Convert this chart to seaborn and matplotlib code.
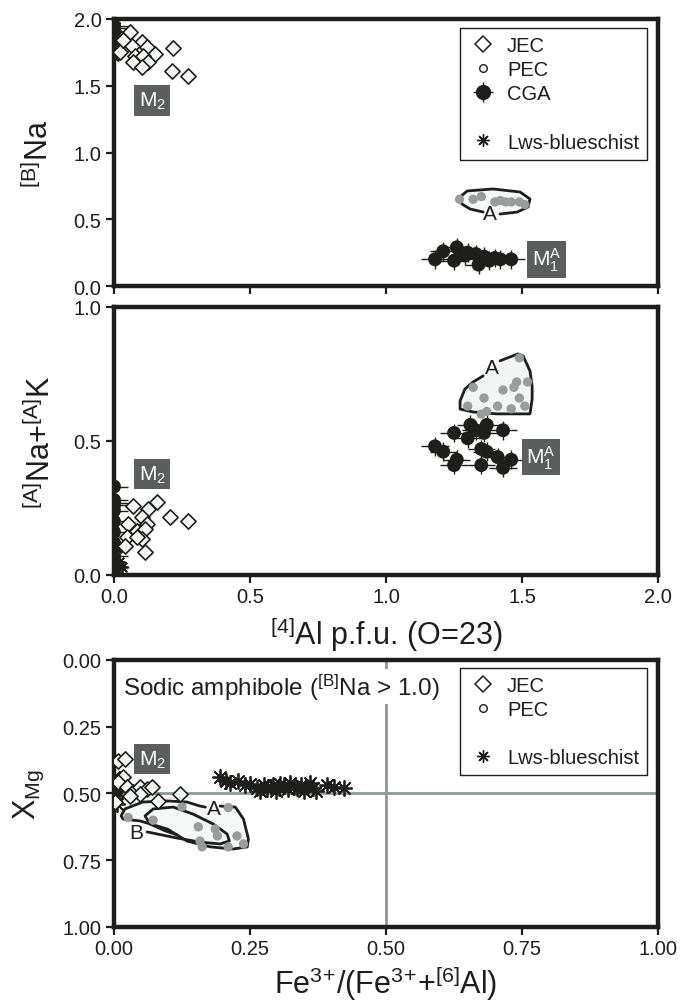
import numpy as np
import matplotlib
matplotlib.use('Agg')
import matplotlib.pyplot as plt
from matplotlib.lines import Line2D
import seaborn as sns

# ---------- data ----------
# top panel: [B]Na vs [4]Al
jec_al = [0.059, 0.103, 0.066, 0.121, 0.151, 0.077, 0.107, 0.125, 0.070, 0.103, 0.217, 0.213, 0.272, 0.022, 0.033]
jec_bna = [1.90, 1.83, 1.80, 1.79, 1.74, 1.72, 1.72, 1.68, 1.68, 1.64, 1.78, 1.61, 1.57, 1.75, 1.84]
pec_al = [1.27, 1.32, 1.35, 1.40, 1.42, 1.44, 1.46, 1.49, 1.51]
pec_bna = [0.65, 0.65, 0.67, 0.63, 0.64, 0.63, 0.63, 0.63, 0.61]
cga_al = [1.18, 1.21, 1.25, 1.26, 1.29, 1.30, 1.33, 1.34, 1.35, 1.36, 1.38, 1.40, 1.42, 1.46,
          0.0, 0.0, 0.0, 0.0, 0.0, 0.0, 0.0, 0.0]
cga_bna = [0.20, 0.26, 0.19, 0.29, 0.23, 0.25, 0.24, 0.16, 0.20, 0.22, 0.19, 0.21, 0.20, 0.20,
           1.95, 1.93, 1.90, 1.88, 1.85, 1.82, 1.79, 1.76]
lws_al = [0.0, 0.0, 0.0, 0.01, 0.0, 0.02, 0.0, 0.01, 0.0, 0.02, 0.01, 0.0]
lws_bna = [1.97, 1.93, 1.90, 1.88, 1.86, 1.84, 1.82, 1.80, 1.78, 1.76, 1.74, 1.72]

# middle panel: [A]Na+[A]K vs [4]Al
jec_al2 = [0.070, 0.158, 0.125, 0.103, 0.051, 0.121, 0.085, 0.206, 0.272, 0.048, 0.114, 0.103, 0.114, 0.040, 0.085]
jec_ak = [0.257, 0.272, 0.246, 0.216, 0.190, 0.190, 0.164, 0.216, 0.201, 0.142, 0.172, 0.134, 0.086, 0.108, 0.142]
pec_al2 = [1.49, 1.32, 1.36, 1.43, 1.48, 1.52, 1.47, 1.49, 1.41, 1.46, 1.51, 1.30, 1.35, 1.37]
pec_ak = [0.81, 0.70, 0.66, 0.69, 0.72, 0.72, 0.70, 0.66, 0.63, 0.62, 0.63, 0.63, 0.60, 0.61]
cga_al2 = [1.18, 1.21, 1.25, 1.31, 1.37, 1.43, 1.30, 1.35, 1.37, 1.41, 1.46, 1.26, 1.25, 1.35, 1.43, 1.36, 1.33,
           0.0, 0.0, 0.0, 0.0, 0.0, 0.0, 0.0, 0.0, 0.0, 0.0]
cga_ak = [0.48, 0.46, 0.53, 0.56, 0.56, 0.54, 0.51, 0.47, 0.46, 0.44, 0.43, 0.43, 0.41, 0.41, 0.40, 0.53, 0.54,
          0.33, 0.28, 0.27, 0.26, 0.24, 0.20, 0.16, 0.12, 0.10, 0.07]
lws_al2 = [0.0, 0.01, 0.0, 0.03, 0.0, 0.02, 0.0, 0.01]
lws_ak = [0.02, 0.04, 0.06, 0.03, 0.08, 0.05, 0.01, 0.10]

# bottom panel: XMg vs Fe3+/(Fe3+ + [6]Al)
jec_fe = [0.007, 0.020, 0.017, 0.008, 0.024, 0.035, 0.048, 0.061, 0.070, 0.048, 0.081, 0.122, 0.002, 0.030]
jec_xmg = [0.378, 0.370, 0.440, 0.457, 0.476, 0.494, 0.476, 0.483, 0.476, 0.502, 0.528, 0.502, 0.532, 0.510]
pec_fe = [0.026, 0.072, 0.125, 0.155, 0.158, 0.162, 0.186, 0.190, 0.210, 0.210, 0.226, 0.238]
pec_xmg = [0.59, 0.60, 0.55, 0.625, 0.678, 0.70, 0.633, 0.659, 0.70, 0.553, 0.659, 0.689]
lws_fe = [0.195, 0.205, 0.214, 0.228, 0.240, 0.250, 0.262, 0.269, 0.276, 0.282, 0.288, 0.293, 0.298, 0.303,
          0.306, 0.312, 0.319, 0.324, 0.330, 0.336, 0.343, 0.349, 0.355, 0.360, 0.366, 0.372, 0.392, 0.405, 0.422,
          0.0, 0.0, 0.0, 0.0, 0.0, 0.005, 0.005, 0.0, 0.0, 0.0]
lws_xmg = [0.44, 0.455, 0.46, 0.455, 0.47, 0.465, 0.48, 0.49, 0.47, 0.485, 0.475, 0.47, 0.49, 0.48,
           0.465, 0.47, 0.485, 0.46, 0.475, 0.48, 0.47, 0.49, 0.475, 0.46, 0.48, 0.49, 0.47, 0.475, 0.48,
           0.44, 0.46, 0.48, 0.50, 0.52, 0.54, 0.49, 0.51, 0.47, 0.53]

# field outlines (hand traced)
regA1_x = [1.357, 1.309, 1.279, 1.272, 1.298, 1.393, 1.493, 1.529, 1.522, 1.482, 1.419]
regA1_y = [0.554, 0.577, 0.614, 0.667, 0.712, 0.727, 0.704, 0.652, 0.592, 0.554, 0.539]
regA2_x = [1.419, 1.485, 1.504, 1.529, 1.537, 1.537, 1.529, 1.408, 1.320, 1.272, 1.272, 1.290, 1.320, 1.357]
regA2_y = [0.799, 0.825, 0.817, 0.761, 0.705, 0.657, 0.601, 0.601, 0.608, 0.619, 0.649, 0.694, 0.720, 0.743]
regA3_x = [0.195, 0.223, 0.238, 0.247, 0.245, 0.219, 0.177, 0.134, 0.098, 0.048, 0.017, 0.013, 0.020, 0.053,
           0.098, 0.134, 0.158, 0.168]
regA3_y = [0.547, 0.551, 0.596, 0.670, 0.700, 0.708, 0.700, 0.678, 0.633, 0.603, 0.596, 0.584, 0.558, 0.532,
           0.528, 0.532, 0.547, 0.551]
regB3_x = [0.061, 0.116, 0.158, 0.195, 0.212, 0.208, 0.182, 0.145, 0.109, 0.072, 0.057, 0.066, 0.094, 0.116]
regB3_y = [0.644, 0.667, 0.682, 0.689, 0.678, 0.652, 0.614, 0.577, 0.551, 0.558, 0.584, 0.614, 0.640, 0.655]

INK = '#1e1e1c'
GREY = '#999c9b'
BOXC = '#5b5e5c'
AST = (8, 2, 0)
TICKFS = 14.5
LABFS = 22
LEGFS = 14.5

sns.set_theme(style='ticks')
plt.rcParams['font.family'] = ['Liberation Sans', 'DejaVu Sans']
plt.rcParams['mathtext.default'] = 'regular'

fig = plt.figure(figsize=(6.81, 10.04), dpi=100)
ax1 = fig.add_axes([0.1674, 0.7141, 0.799, 0.266])
ax2 = fig.add_axes([0.1674, 0.4263, 0.799, 0.267])
ax3 = fig.add_axes([0.1674, 0.0757, 0.799, 0.266])


def _style(ax):
    for s in ax.spines.values():
        s.set_linewidth(3.2)
        s.set_color(INK)
    ax.tick_params(length=6, width=1.6, color=INK, labelsize=TICKFS, pad=3, labelcolor=INK)


def _jec(ax, x, y):
    sns.scatterplot(x=x, y=y, ax=ax, marker='D', s=60, color='#f6f8f7',
                    edgecolor=INK, linewidth=1.2, zorder=4, legend=False)


def _pec(ax, x, y):
    sns.scatterplot(x=x, y=y, ax=ax, marker='o', s=45, color=GREY,
                    edgecolor='none', zorder=3, legend=False)


def _cga(ax, x, y, xe, ye):
    ax.errorbar(x, y, xerr=xe, yerr=ye, fmt='none', ecolor=INK, elinewidth=1, zorder=2)
    sns.scatterplot(x=x, y=y, ax=ax, marker='o', s=100, color=INK,
                    edgecolor='none', zorder=3, legend=False)


def _lws(ax, x, y, s=70):
    sns.scatterplot(x=x, y=y, ax=ax, marker=AST, s=s, color=INK,
                    linewidth=1.3, zorder=3, legend=False)


def _tag(ax, x, y, txt):
    ax.text(x, y, txt, color='white', fontsize=15, ha='center', va='center', zorder=6,
            bbox=dict(boxstyle='square,pad=0.22', fc=BOXC, ec='none'))


def _outline(ax, x, y, fill=None):
    if fill:
        ax.fill(x, y, color=fill, zorder=1, lw=0)
    ax.plot(x, y, color=INK, lw=2, solid_capstyle='round', solid_joinstyle='round', zorder=2)


def _legend(ax, handles, labels, top):
    leg = ax.legend(handles, labels, loc='upper right', bbox_to_anchor=(0.98, top), fontsize=LEGFS,
                    frameon=True, fancybox=False, framealpha=1, edgecolor=INK, borderpad=0.4,
                    labelspacing=0.25, handlelength=1.5, handletextpad=0.45, borderaxespad=0)
    leg.get_frame().set_linewidth(1)
    for t in leg.get_texts():
        t.set_color(INK)


# legend handles
h_jec = Line2D([], [], marker='D', ls='none', ms=8, mfc='white', mec=INK, mew=1.1)
h_pec = Line2D([], [], marker='o', ls='none', ms=5.5, mfc='white', mec=INK, mew=1.0)
h_cga = ax1.errorbar([np.nan], [np.nan], xerr=[1], yerr=[1], fmt='o', ms=10, color=INK, elinewidth=1)
h_blank = Line2D([], [], ls='none')
h_lws = Line2D([], [], marker=AST, ls='none', ms=9, color=INK, mew=1.0)

# ---- panel 1 ----
_outline(ax1, regA1_x, regA1_y, fill='#f6f8f7')
_pec(ax1, pec_al, pec_bna)
_cga(ax1, cga_al, cga_bna, 0.05, 0.07)
_lws(ax1, lws_al, lws_bna)
_jec(ax1, jec_al, jec_bna)
ax1.text(1.38, 0.545, 'A', fontsize=15, ha='center', va='center', color=INK)
_tag(ax1, 0.14, 1.39, r'M$_2$')
_tag(ax1, 1.59, 0.20, r'M$_1^A$')
ax1.set_xlim(0, 2)
ax1.set_ylim(0, 2)
ax1.set_xticks([0, 0.5, 1.0, 1.5, 2.0])
ax1.set_xticklabels([])
ax1.set_yticks([0, 0.5, 1.0, 1.5, 2.0])
ax1.set_yticklabels(['0.0', '0.5', '1.0', '1.5', '2.0'])
ax1.set_ylabel(r'$^{[B]}$Na', fontsize=LABFS, color=INK)
ax1.yaxis.set_label_coords(-0.108, 0.5)
_legend(ax1, [h_jec, h_pec, h_cga, h_blank, h_lws], ['JEC', 'PEC', 'CGA', ' ', 'Lws-blueschist'], 0.965)

# ---- panel 2 ----
_outline(ax2, regA2_x, regA2_y, fill='#f3f5f4')
_pec(ax2, pec_al2, pec_ak)
_cga(ax2, cga_al2, cga_ak, 0.05, 0.035)
_lws(ax2, lws_al2, lws_ak)
_jec(ax2, jec_al2, jec_ak)
ax2.text(1.39, 0.775, 'A', fontsize=15, ha='center', va='center', color=INK)
_tag(ax2, 0.14, 0.377, r'M$_2$')
_tag(ax2, 1.57, 0.44, r'M$_1^A$')
ax2.set_xlim(0, 2)
ax2.set_ylim(0, 1)
ax2.set_xticks([0, 0.5, 1.0, 1.5, 2.0])
ax2.set_xticklabels(['0.0', '0.5', '1.0', '1.5', '2.0'])
ax2.set_yticks([0, 0.5, 1.0])
ax2.set_yticklabels(['0.0', '0.5', '1.0'])
ax2.set_ylabel(r'$^{[A]}$Na+$^{[A]}$K', fontsize=LABFS, color=INK)
ax2.yaxis.set_label_coords(-0.105, 0.5)
ax2.set_xlabel(r'$^{[4]}$Al p.f.u. (O=23)', fontsize=LABFS, color=INK)
ax2.xaxis.set_label_coords(0.5, -0.145)

# ---- panel 3 ----
ax3.axhline(0.5, color='#8e9897', lw=2, zorder=1)
ax3.axvline(0.5, color='#8e9897', lw=2, zorder=1)
_outline(ax3, regA3_x, regA3_y, fill='#f6f8f7')
_outline(ax3, regB3_x, regB3_y)
_pec(ax3, pec_fe, pec_xmg)
_lws(ax3, lws_fe, lws_xmg, s=120)
_jec(ax3, jec_fe, jec_xmg)
ax3.text(0.183, 0.556, 'A', fontsize=15, ha='center', va='center', color=INK)
ax3.text(0.04, 0.645, 'B', fontsize=15, ha='center', va='center', color=INK)
_tag(ax3, 0.07, 0.371, r'M$_2$')
ax3.text(0.017, 0.9, r'Sodic amphibole ($^{[B]}$Na > 1.0)', transform=ax3.transAxes,
         fontsize=17.5, ha='left', va='center', color=INK, zorder=5,
         bbox=dict(boxstyle='square,pad=0.1', fc='white', ec='none'))
ax3.set_xlim(0, 1)
ax3.set_ylim(1, 0)
ax3.set_xticks([0, 0.25, 0.5, 0.75, 1.0])
ax3.set_xticklabels(['0.00', '0.25', '0.50', '0.75', '1.00'])
ax3.set_yticks([0, 0.25, 0.5, 0.75, 1.0])
ax3.set_yticklabels(['0.00', '0.25', '0.50', '0.75', '1.00'])
ax3.set_ylabel(r'X$_{Mg}$', fontsize=LABFS, color=INK)
ax3.yaxis.set_label_coords(-0.125, 0.5)
ax3.set_xlabel(r'Fe$^{3}$$^{+}$/(Fe$^{3}$$^{+}$+$^{[6]}$Al)', fontsize=LABFS, color=INK)
ax3.xaxis.set_label_coords(0.5, -0.135)
_legend(ax3, [h_jec, h_pec, h_blank, h_lws], ['JEC', 'PEC', ' ', 'Lws-blueschist'], 0.97)

for ax in (ax1, ax2, ax3):
    _style(ax)

fig.savefig('out.png', dpi=100)
